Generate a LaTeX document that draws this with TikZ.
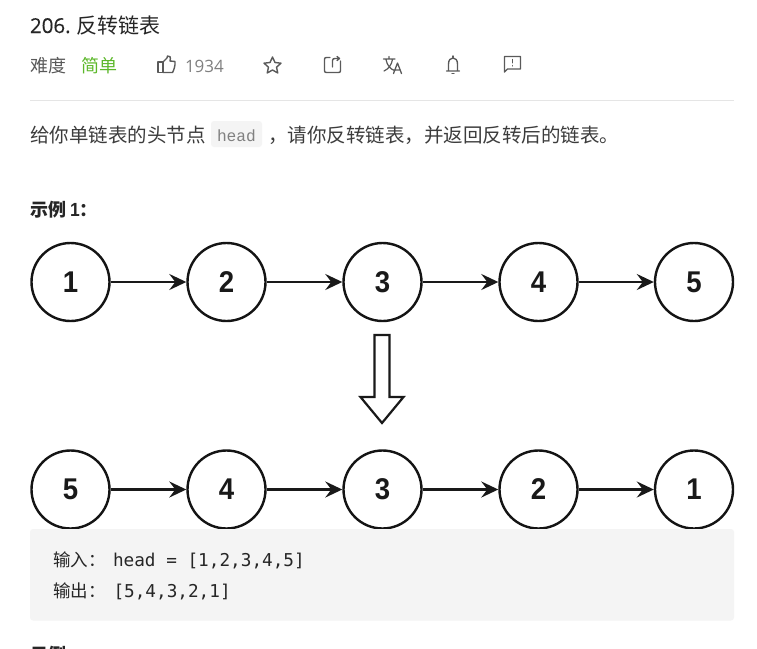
\documentclass[tikz,border=0pt]{standalone}
\usepackage{fontspec}
\usetikzlibrary{arrows.meta}
\setmainfont{Open Sans}
\newfontfamily\cjk{Noto Sans CJK SC}
\newfontfamily\lib[FakeStretch=0.92]{Liberation Sans}
\newfontfamily\opb[FakeBold=0.35]{Open Sans}
\newfontfamily\dvm{DejaVu Sans Mono}
\newfontfamily\lmo{Liberation Mono}
\definecolor{ink}{HTML}{262626}
\definecolor{soft}{HTML}{595959}
\definecolor{greenlevel}{HTML}{5CB82A}
\definecolor{codebg}{HTML}{F4F4F4}
\definecolor{iconc}{HTML}{5A5A5A}
\tikzset{
  x=1pt,y=-1pt,
  listnode/.style={circle,draw=black!92,line width=2.4pt,minimum size=78pt,inner sep=0pt,font=\lib\bfseries\fontsize{30}{30}\selectfont,text=black!90},
  link/.style={draw=black!90,line width=2.3pt,-{Stealth[length=17pt,width=16pt,inset=6pt]}},
  txt/.style={anchor=base west,inner sep=0pt,outer sep=0pt},
  icon/.style={draw=iconc,line width=1.4pt,line join=round,line cap=round},
}
\begin{document}
\begin{tikzpicture}
\useasboundingbox (0,0) rectangle (757,648);
\fill[white] (0,0) rectangle (757,648);
% header
\node[txt,text=ink] (title) at (30,33) {\opb\fontsize{20.5}{20}\selectfont 206.};
\node[txt,text=ink] (titlecn) at (76,33) {\cjk\fontsize{21}{20}\selectfont 反转链表};
\node[txt,text=soft] (level) at (30,72) {\cjk\fontsize{18}{18}\selectfont 难度};
\node[txt,text=greenlevel] (easy) at (81,72) {\cjk\fontsize{18}{18}\selectfont 简单};
\node[txt,text=gray] (likes) at (185,72) {\fontsize{17}{17}\selectfont 1934};
% thumbs up
\draw[icon] (158,62) rectangle (163,72.5);
\draw[icon] (163,62) -- (167,58) -- (167.5,56) .. controls (170,55.5) and (171,57) .. (170,61) -- (175,61.5) .. controls (175.5,65) and (174,70) .. (172.5,72.5) -- (163,72.5);
% star
\draw[icon] (272.5,57) -- (275,62.5) -- (281,63.2) -- (276.5,67.2) -- (277.8,73) -- (272.5,70) -- (267.2,73) -- (268.5,67.2) -- (264,63.2) -- (270,62.5) -- cycle;
% share
\draw[icon] (330,57.5) -- (326.5,57.5) .. controls (325,57.5) and (324.5,58) .. (324.5,59.5) -- (324.5,70.5) .. controls (324.5,72) and (325,72.5) .. (326.5,72.5) -- (338.5,72.5) .. controls (340,72.5) and (340.5,72) .. (340.5,70.5) -- (340.5,61);
\draw[icon] (332.5,67) -- (332.5,60.5) .. controls (332.5,59) and (333.5,58.5) .. (335,58.5) -- (339,58.5);
\draw[icon] (337,56.5) -- (339.5,58.5) -- (337,60.5);
% translate
\draw[icon,line width=1.2pt] (383.5,59) -- (395,59) (389,56.5) -- (389,59) (386,59.5) .. controls (387,65) and (390,69) .. (394.5,70.5) (392.5,59.5) .. controls (391.5,65) and (388.5,69) .. (384,71);
\draw[icon,line width=1.3pt] (393.5,73.5) -- (397.5,63) -- (401.5,73.5) (395,70) -- (400,70);
% bell
\draw[icon] (446.5,71) -- (459.5,71) (448.5,71) -- (448.5,64) .. controls (448.5,60) and (450.5,58) .. (453,58) .. controls (455.5,58) and (457.5,60) .. (457.5,64) -- (457.5,71);
\draw[icon] (453,56) -- (453,57.5) (452,73.5) -- (454,73.5);
% feedback
\draw[icon] (504.5,56.5) -- (520.5,56.5) -- (520.5,69) -- (507.5,69) -- (504.5,72) -- cycle;
\draw[icon] (512.5,59.5) -- (512.5,62.8) (512.5,65.6) -- (512.5,65.9);
% rule
\coordinate (ruleL) at (30,100.5);
\coordinate (ruleR) at (734,100.5);
\draw[draw=black!10,line width=1pt] (ruleL) -- (ruleR);
% statement
\node[txt,text=ink!90] (st1) at (30,142) {\cjk\fontsize{19.5}{20}\selectfont 给你单链表的头节点};
\fill[codebg,rounded corners=3pt] (211,121) rectangle (262,147);
\node[txt,text=gray] (hd) at (217,141) {\lmo\fontsize{16.2}{16}\selectfont head};
\node[txt,text=ink!90] (st2) at (268,142) {\cjk\fontsize{19.5}{20}\selectfont ，请你反转链表，并返回反转后的链表。};
\node[txt,text=ink] (ex1) at (30,216) {\cjk\bfseries\fontsize{18}{18}\selectfont 示例 {\lib\bfseries\fontsize{19}{18}\selectfont 1}：};
% top row
\node[listnode] (a1) at (70.5,282) {1};
\node[listnode] (a2) at (226.5,282) {2};
\node[listnode] (a3) at (382.5,282) {3};
\node[listnode] (a4) at (538.5,282) {4};
\node[listnode] (a5) at (694,282) {5};
\draw[link] (a1) -- (a2);
\draw[link] (a2) -- (a3);
\draw[link] (a3) -- (a4);
\draw[link] (a4) -- (a5);
% block arrow
\draw[draw=black!90,line width=2.2pt,fill=white,line join=miter]
  (374.5,335) -- (389.5,335) -- (389.5,397) -- (403.5,397) -- (382,423) -- (360.5,397) -- (374.5,397) -- cycle;
% bottom row
\node[listnode] (b1) at (70.5,489.5) {5};
\node[listnode] (b2) at (226.5,489.5) {4};
\node[listnode] (b3) at (382.5,489.5) {3};
\node[listnode] (b4) at (538.5,489.5) {2};
\node[listnode] (b5) at (694,489.5) {1};
\draw[link] (b1) -- (b2);
\draw[link] (b2) -- (b3);
\draw[link] (b3) -- (b4);
\draw[link] (b4) -- (b5);
% code block (overlaps the circles' lowest edge)
\fill[codebg,rounded corners=3pt] (30,529) rectangle (734,620.5);
\node[txt,text=ink] (in1) at (53,566) {\cjk\fontsize{17.5}{18}\selectfont 输入：};
\node[txt,text=ink] (in2) at (113,566) {\dvm\fontsize{17.7}{18}\selectfont head = [1,2,3,4,5]};
\node[txt,text=ink] (out1) at (53,597) {\cjk\fontsize{17.5}{18}\selectfont 输出：};
\node[txt,text=ink] (out2) at (113.5,597) {\dvm\fontsize{17.7}{18}\selectfont [5,4,3,2,1]};
\node[txt,text=ink] (ex2) at (30,661) {\cjk\bfseries\fontsize{18}{18}\selectfont 示例};
\end{tikzpicture}
\end{document}
